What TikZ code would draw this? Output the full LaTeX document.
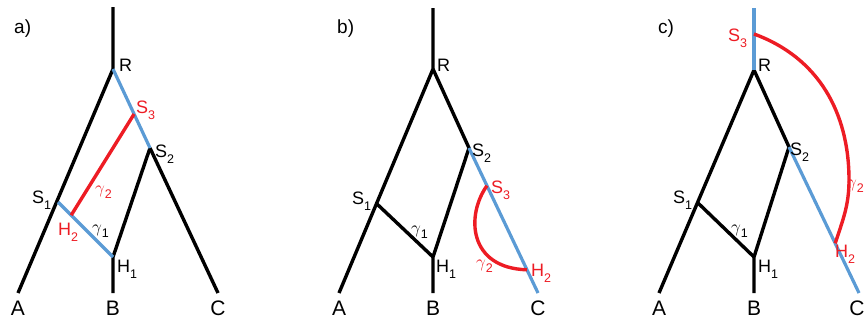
\documentclass[tikz,border=0pt]{standalone}
\usepackage{fontspec}
\usetikzlibrary{calc}
\setmainfont{Liberation Sans}
\definecolor{tblue}{RGB}{91,155,213}
\definecolor{tred}{RGB}{237,28,36}
\newcommand\lsub[2]{#1\raisebox{-0.38em}{\fontsize{12.5}{13}\selectfont #2}}
\newcommand\gsub[1]{{\fontsize{16.5}{17}\selectfont$\gamma$}\raisebox{-0.3em}{\fontsize{12.5}{13}\selectfont #1}}
\begin{document}
\begin{tikzpicture}[x=1pt,y=-1pt,
  br/.style={line width=3.4pt,black},
  bl/.style={line width=3.2pt,tblue},
  rd/.style={line width=3.4pt,tred},
  lbl/.style={anchor=base west,inner sep=0pt,font=\fontsize{18}{20}\selectfont},
  rlbl/.style={lbl,text=tred},
  tip/.style={anchor=base,inner sep=0pt,font=\fontsize{21}{23}\selectfont},
  pan/.style={anchor=base west,inner sep=0pt,font=\fontsize{19}{21}\selectfont}]
\useasboundingbox (0,0) rectangle (866,322);

% ---------- panel a ----------
\coordinate (aT) at (113,7);
\coordinate (aR) at (113,69);
\coordinate (aA) at (18,293);
\coordinate (aS1) at (58,202);
\coordinate (aS2) at (150,148);
\coordinate (aC) at (218,293);
\coordinate (aH1) at (113,257);
\coordinate (aB) at (113,293);
\coordinate (aS3) at ($(aR)!0.57!(aS2)$);
\coordinate (aH2) at ($(aS1)!0.24!(aH1)$);
\draw[br] (aT) -- (aR) -- (aA);
\draw[br] (aS2) -- (aC);
\draw[br] (aS2) -- (aH1) -- (aB);
\draw[bl] (aR) -- (aS2);
\draw[bl] (aS1) -- (aH1);
\draw[rd] (aH2) -- (aS3);
\node[pan] (alab) at (14,33) {a)};
\node[lbl] (aRl) at (119,71) {R};
\node[rlbl] (aS3l) at (136,113) {\lsub{S}{3}};
\node[lbl] (aS2l) at (155,157) {\lsub{S}{2}};
\node[lbl] (aS1l) at (32,203) {\lsub{S}{1}};
\node[lbl,text=tred] (ag2) at (95,193) {\gsub{2}};
\node[rlbl] (aH2l) at (58,235) {\lsub{H}{2}};
\node[lbl] (ag1) at (92,232) {\gsub{1}};
\node[lbl] (aH1l) at (117,272) {\lsub{H}{1}};
\node[tip] (aAl) at (18,315) {A};
\node[tip] (aBl) at (113,315) {B};
\node[tip] (aCl) at (218,315) {C};

% ---------- panel b ----------
\coordinate (bT) at (433,8);
\coordinate (bR) at (433,69);
\coordinate (bA) at (339,293);
\coordinate (bS1) at (377,204);
\coordinate (bS2) at (469,148);
\coordinate (bC) at (538,293);
\coordinate (bH1) at (433,257);
\coordinate (bB) at (433,293);
\coordinate (bS3) at ($(bS2)!0.26!(bC)$);
\coordinate (bH2) at ($(bS2)!0.84!(bC)$);
\draw[br] (bT) -- (bR) -- (bA);
\draw[br] (bR) -- (bS2) -- (bH1) -- (bB);
\draw[br] (bS1) -- (bH1);
\draw[bl] (bS2) -- (bC);
\draw[rd] (bS3) .. controls (466,215) and (468,268) .. (bH2);
\node[pan] (blab) at (337,33) {b)};
\node[lbl] (bRl) at (437,71) {R};
\node[lbl] (bS2l) at (472,156) {\lsub{S}{2}};
\node[rlbl] (bS3l) at (491,193) {\lsub{S}{3}};
\node[lbl] (bS1l) at (352,204) {\lsub{S}{1}};
\node[lbl] (bg1) at (411,233) {\gsub{1}};
\node[lbl] (bH1l) at (436,272) {\lsub{H}{1}};
\node[lbl,text=tred] (bg2) at (476,267) {\gsub{2}};
\node[rlbl] (bH2l) at (531,276) {\lsub{H}{2}};
\node[tip] (bAl) at (339,315) {A};
\node[tip] (bBl) at (433,315) {B};
\node[tip] (bCl) at (538,315) {C};

% ---------- panel c ----------
\coordinate (cT) at (754,8);
\coordinate (cR) at (754,70);
\coordinate (cS3) at (754,34);
\coordinate (cA) at (659,293);
\coordinate (cS1) at (698,203);
\coordinate (cS2) at (789,147);
\coordinate (cC) at (859,293);
\coordinate (cH1) at (754,257);
\coordinate (cB) at (754,293);
\coordinate (cH2) at ($(cS2)!0.66!(cC)$);
\coordinate (cM) at (849,180);
\draw[br] (cR) -- (cA);
\draw[br] (cR) -- (cS2) -- (cH1) -- (cB);
\draw[br] (cS1) -- (cH1);
\draw[bl] (cT) -- (cR);
\draw[bl] (cS2) -- (cC);
\draw[rd] (cS3) to[out=-20,in=90] (cM) to[out=-90,in=72] (cH2);
\node[pan] (clab) at (658,33) {c)};
\node[rlbl] (cS3l) at (728,41) {\lsub{S}{3}};
\node[lbl] (cRl) at (758,71) {R};
\node[lbl] (cS2l) at (790,155) {\lsub{S}{2}};
\node[lbl] (cS1l) at (673,203) {\lsub{S}{1}};
\node[lbl] (cg1) at (731,232) {\gsub{1}};
\node[lbl] (cH1l) at (758,272) {\lsub{H}{1}};
\node[lbl,text=tred] (cg2) at (847,187) {\gsub{2}};
\node[rlbl] (cH2l) at (835,257) {\lsub{H}{2}};
\node[tip] (cAl) at (659,315) {A};
\node[tip] (cBl) at (754,315) {B};
\node[tip] (cCl) at (857,315) {C};
\end{tikzpicture}
\end{document}
